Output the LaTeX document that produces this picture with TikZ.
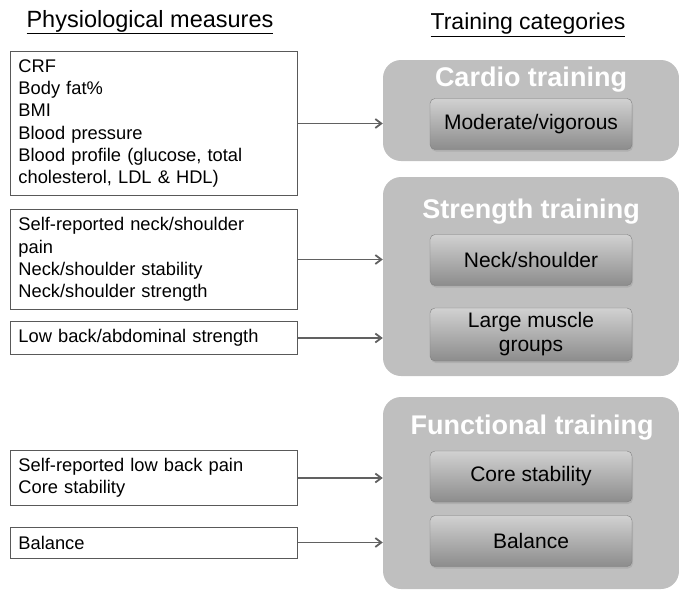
\documentclass[tikz,border=0pt]{standalone}
\usepackage{fontspec}
\setmainfont{Liberation Sans}
\usetikzlibrary{arrows.meta,shadows}
\begin{document}
\begin{tikzpicture}[x=1pt,y=-1pt,
    measure/.style={draw=black!65,line width=0.9pt,fill=white,anchor=west,
      align=left,text width=271pt,inner sep=8pt,
      font=\fontsize{18.3}{22.3}\selectfont},
    category/.style={fill=black!25,rounded corners=18pt,minimum width=296pt},
    cattitle/.style={text=white,font=\fontsize{27}{30}\selectfont\bfseries},
    training/.style={draw=black!50,rounded corners=5pt,top color=black!18,
      bottom color=black!45,minimum width=202pt,minimum height=51pt,
      align=center,drop shadow={opacity=0.25,shadow xshift=1pt,shadow yshift=-2pt},
      font=\fontsize{21}{25}\selectfont},
    link/.style={-{Straight Barb[length=6pt,width=9pt]},line width=1.8pt,draw=black!62}]
  \useasboundingbox (0,0) rectangle (679,590);
  % headings
  \node (h1) at (150,22) {\fontsize{23.5}{26}\selectfont\underline{Physiological measures}};
  \node (h2) at (528,25) {\fontsize{23}{26}\selectfont\underline{Training categories}};
  % training categories
  \node[category,minimum height=101pt] (cardio) at (531,110.5) {};
  \node[category,minimum height=199pt] (strength) at (531,276.5) {};
  \node[category,minimum height=192pt] (functional) at (531,493) {};
  \node[cattitle] (t1) at (531,80) {Cardio training};
  \node[cattitle] (t2) at (531,212) {Strength training};
  \node[cattitle] (t3) at (532,428) {Functional training};
  \node[training] (c1) at (531,124) {Moderate/vigorous};
  \node[training] (s1) at (531,260) {Neck/shoulder};
  \node[training,minimum height=53pt] (s2) at (531,334.5) {Large muscle\\[-1pt]groups};
  \node[training] (f1) at (531,476.5) {Core stability};
  \node[training] (f2) at (531,541) {Balance};
  % physiological measures
  \node[measure,minimum height=143pt] (m1) at (10,123.5)
    {CRF\\Body fat\%\\BMI\\Blood pressure\\Blood profile (glucose, total\\cholesterol, LDL \& HDL)};
  \node[measure,minimum height=99pt] (m2) at (10,259.5)
    {Self-reported neck/shoulder\\pain\\Neck/shoulder stability\\Neck/shoulder strength};
  \node[measure,minimum height=32pt] (m3) at (10,338) {Low back/abdominal strength};
  \node[measure,minimum height=54pt] (m4) at (10,478)
    {Self-reported low back pain\\Core stability};
  \node[measure,minimum height=31pt] (m5) at (10,542.5) {Balance};
  % connectors
  \begin{scope}[link]
    \draw (m1.east) -- (m1.east -| cardio.west);
    \draw (m2.east) -- (m2.east -| strength.west);
    \draw (m3.east) -- (m3.east -| strength.west);
    \draw (m4.east) -- (m4.east -| functional.west);
    \draw (m5.east) -- (m5.east -| functional.west);
  \end{scope}
\end{tikzpicture}
\end{document}
